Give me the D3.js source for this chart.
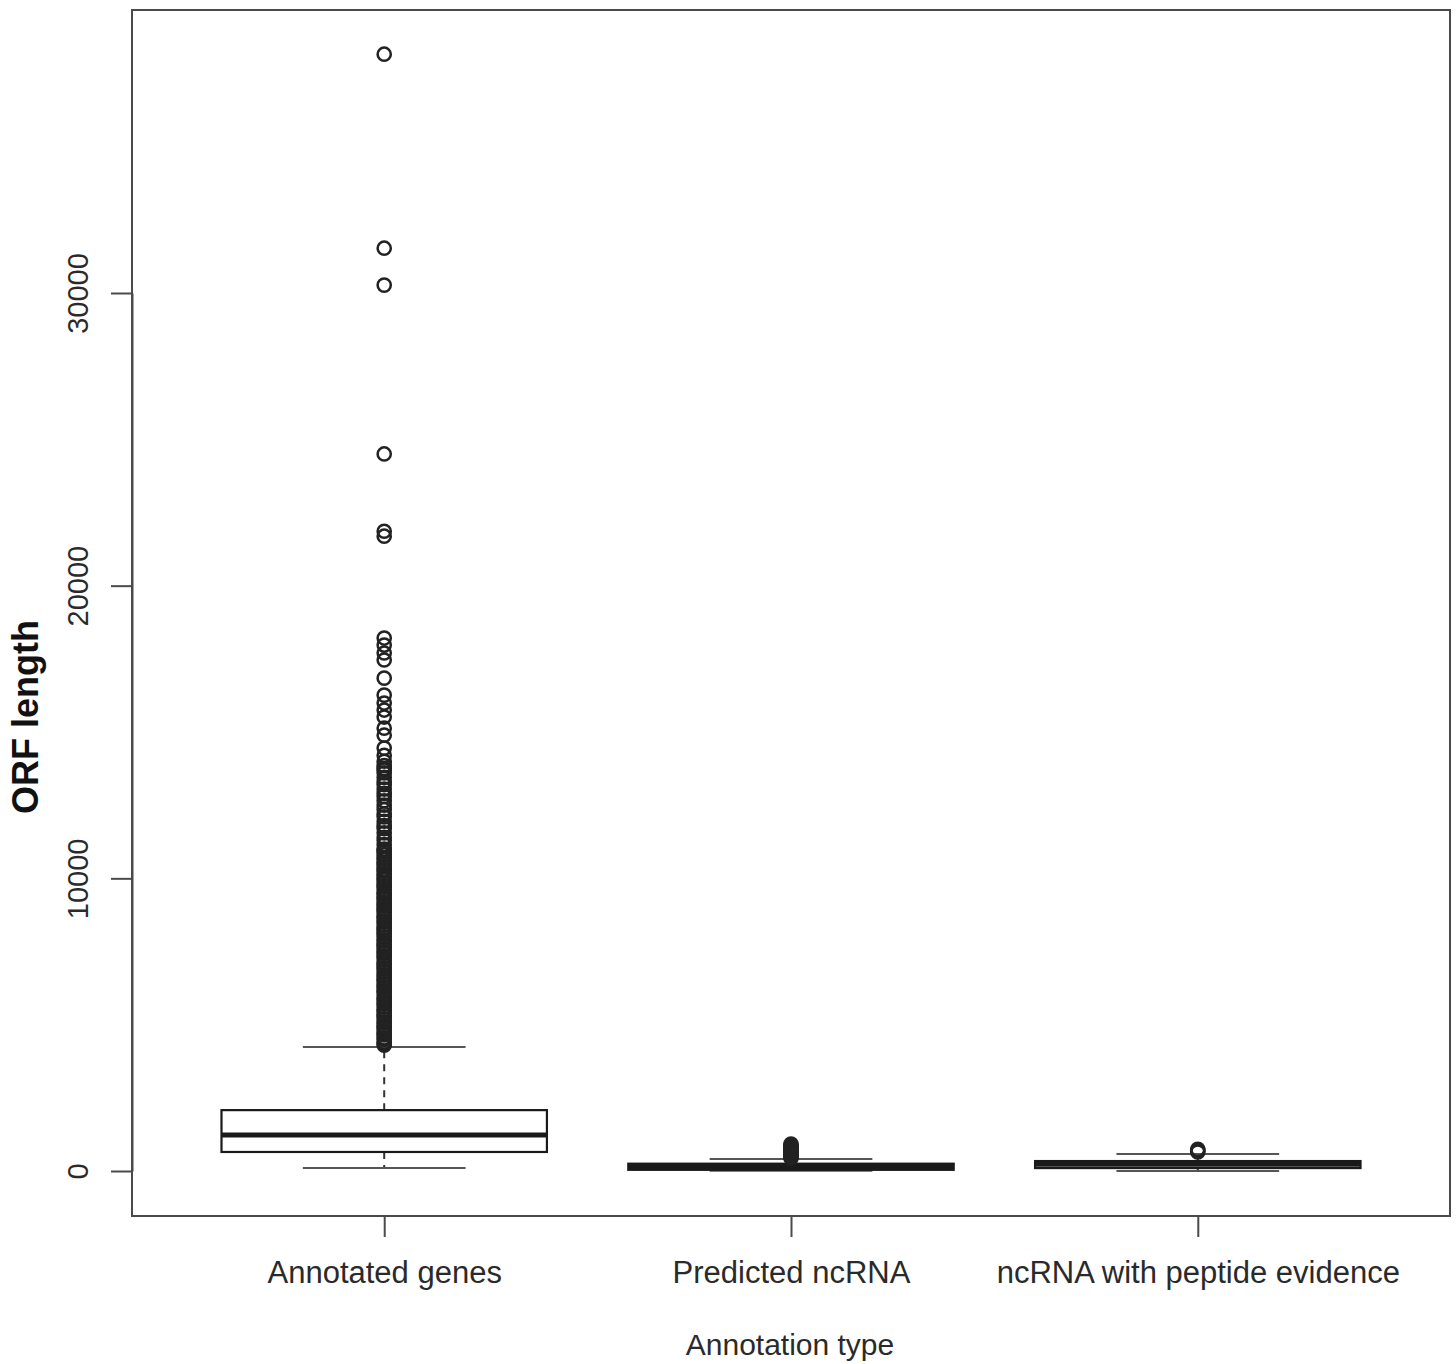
<!DOCTYPE html>
<html>
<head>
<meta charset="utf-8">
<script src="https://cdn.jsdelivr.net/npm/d3@7"></script>
<style>
  html, body { margin: 0; padding: 0; background: #fff; }
  svg { display: block; }
  text { font-family: "Liberation Sans", Arial, Helvetica, sans-serif; }
</style>
</head>
<body>
<svg id="chart" width="1456" height="1364"></svg>
<script>
// ---- Data ----
const categories = ["Annotated genes", "Predicted ncRNA", "ncRNA with peptide evidence"];
const lowerWhisker = [100, 10, 0];
const q1 = [650, 40, 100];
const medians = [1230, 150, 230];
const q3 = [2080, 250, 340];
const upperWhisker = [4240, 410, 580];

const outliersAnnotated = [38160, 31530, 30270, 24500, 21860, 21690, 18210, 17970, 17700, 17460,
  16840, 16260, 15990, 15750, 15510, 15130, 14890, 14450,
  14200, 14000, 13850, 13750, 13700, 13600, 13450, 13300, 13200, 13050, 12900, 12800, 12650, 12500,
  12350, 12200, 12100, 11950, 11800, 11700, 11550, 11400, 11300, 11150, 11000, 10950, 10900, 10800,
  10700, 10650, 10550, 10500, 10400, 10300, 10250, 10150, 10100, 10000, 9950, 9850, 9750, 9700,
  9600, 9500, 9450, 9350, 9300, 9200, 9100, 9050, 8950, 8900, 8800, 8700, 8650, 8550, 8500, 8400,
  8300, 8250, 8150, 8100, 8000, 7900, 7850, 7750, 7700, 7600, 7500, 7450, 7350, 7300, 7200, 7100,
  7050, 6950, 6900, 6800, 6700, 6650, 6550, 6500, 6400, 6300, 6250, 6150, 6100, 6000, 5900, 5850,
  5750, 5700, 5600, 5500, 5450, 5350, 5300, 5200, 5100, 5050, 4950, 4900, 4800, 4700, 4650, 4550,
  4500, 4400, 4350, 4300];
const outliersPredicted = [440, 480, 520, 560, 600, 640, 680, 720, 760, 800, 840, 880, 920];
const outliersPeptide = [650, 700, 740];
const outliers = [outliersAnnotated, outliersPredicted, outliersPeptide];

const yTicks = [0, 10000, 20000, 30000];
const xTitle = "Annotation type";
const yTitle = "ORF length";

// ---- Layout ----
const frame = { left: 132, right: 1450, top: 10, bottom: 1216 };
const svg = d3.select("#chart");

const x = d3.scaleLinear().domain([0.38, 3.62]).range([frame.left, frame.right]);
const y = d3.scaleLinear().domain([0, 30000]).range([1171, 293]);

const boxHalf = 0.4, capHalf = 0.2;
const ink = "#1a1a1a";

// Boxes
categories.forEach((c, i) => {
  const cx = i + 1;
  const g = svg.append("g");
  // dashed whiskers
  g.append("line").attr("x1", x(cx)).attr("x2", x(cx))
    .attr("y1", y(q3[i])).attr("y2", y(upperWhisker[i]))
    .attr("stroke", "#333").attr("stroke-width", 2).attr("stroke-dasharray", "7,6");
  g.append("line").attr("x1", x(cx)).attr("x2", x(cx))
    .attr("y1", y(q1[i])).attr("y2", y(lowerWhisker[i]))
    .attr("stroke", "#333").attr("stroke-width", 2).attr("stroke-dasharray", "7,6");
  // caps
  [upperWhisker[i], lowerWhisker[i]].forEach(v => {
    g.append("line").attr("x1", x(cx - capHalf)).attr("x2", x(cx + capHalf))
      .attr("y1", y(v)).attr("y2", y(v))
      .attr("stroke", "#555").attr("stroke-width", 2);
  });
  // box
  g.append("rect")
    .attr("x", x(cx - boxHalf)).attr("width", x(cx + boxHalf) - x(cx - boxHalf))
    .attr("y", y(q3[i])).attr("height", y(q1[i]) - y(q3[i]))
    .attr("fill", "#fff").attr("stroke", ink).attr("stroke-width", 2.2);
  // median
  g.append("line").attr("x1", x(cx - boxHalf)).attr("x2", x(cx + boxHalf))
    .attr("y1", y(medians[i])).attr("y2", y(medians[i]))
    .attr("stroke", ink).attr("stroke-width", 5);
  // outliers
  g.selectAll("circle.o").data(outliers[i]).enter().append("circle")
    .attr("class", "o")
    .attr("cx", x(cx)).attr("cy", d => y(d)).attr("r", 6.6)
    .attr("fill", "none").attr("stroke", "#222").attr("stroke-width", 2.5);
});

// Frame
svg.append("rect")
  .attr("x", frame.left).attr("y", frame.top)
  .attr("width", frame.right - frame.left).attr("height", frame.bottom - frame.top)
  .attr("fill", "none").attr("stroke", "#4a4a4a").attr("stroke-width", 2);

// Y axis
const yAxis = d3.axisLeft(y).tickValues(yTicks).tickSize(21).tickFormat(d3.format("d")).tickSizeOuter(0);
const gy = svg.append("g").attr("transform", `translate(${frame.left},0)`).call(yAxis);
gy.select(".domain").attr("stroke", "#4a4a4a").attr("stroke-width", 2);
gy.selectAll(".tick line").attr("stroke", "#4a4a4a").attr("stroke-width", 2);
gy.selectAll(".tick text")
  .attr("font-size", 29).attr("fill", "#2a2a2a")
  .attr("x", 0).attr("y", 0).attr("dy", 0)
  .attr("text-anchor", "middle")
  .attr("transform", "translate(-44,0) rotate(-90)");

// X axis
const xAxis = d3.axisBottom(x).tickValues([1, 2, 3]).tickSize(21)
  .tickFormat((d) => categories[d - 1]).tickSizeOuter(0);
const gx = svg.append("g").attr("transform", `translate(0,${frame.bottom})`).call(xAxis);
gx.select(".domain").remove();
gx.selectAll(".tick line").attr("stroke", "#4a4a4a").attr("stroke-width", 2);
gx.selectAll(".tick text")
  .attr("font-size", 31).attr("fill", "#2a2a2a")
  .attr("y", 67).attr("dy", 0);

// Titles
svg.append("text").attr("x", 790).attr("y", 1355)
  .attr("text-anchor", "middle").attr("font-size", 30).attr("fill", "#2a2a2a")
  .text(xTitle);
svg.append("text")
  .attr("transform", "translate(38,717) rotate(-90)")
  .attr("text-anchor", "middle").attr("font-size", 36).attr("font-weight", "bold")
  .attr("fill", "#111")
  .text(yTitle);
</script>
</body>
</html>
